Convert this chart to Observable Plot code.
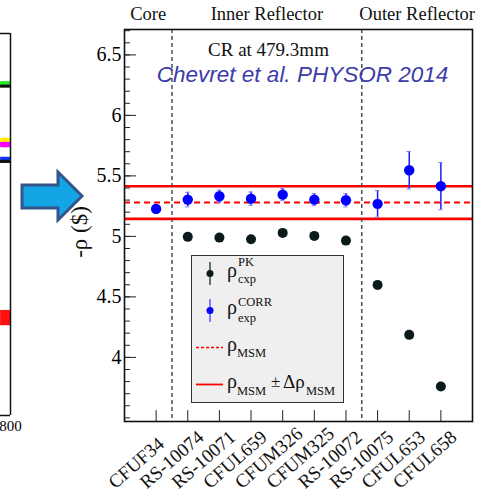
<!DOCTYPE html>
<html><head><meta charset="utf-8">
<script src="https://cdn.jsdelivr.net/npm/d3@7"></script>
<script src="https://cdn.jsdelivr.net/npm/@observablehq/plot@0.6"></script>
<style>
body{margin:0;background:#fff;}
#wrap{position:relative;width:481px;height:494px;overflow:hidden;background:#fff;}
#wrap svg{position:absolute;left:0;top:0;}
</style></head><body><div id="wrap"></div>
<script>
// ---- data ----
const samples = ["CFUF34","RS-10074","RS-10071","CFUL659","CFUM326","CFUM325","RS-10072","RS-10075","CFUL653","CFUL658"];
const rhoCorr    = [5.227,5.304,5.332,5.312,5.345,5.304,5.299,5.269,5.547,5.415];
const rhoCorrErr = [0.035,0.06,0.05,0.055,0.05,0.05,0.055,0.11,0.155,0.195];
const rhoPK      = [null,4.996,4.99,4.977,5.029,5.004,4.965,4.599,4.186,3.76];
const rhoMSM = 5.28;
const rhoMSMErr = 0.135;
const regions = ["Core","Inner Reflector","Outer Reflector"];
const regionBounds = [0, 1.5, 7.5, 11];
const yMajorTicks = [4, 4.5, 5, 5.5, 6, 6.5];
const yDomain = [3.47, 6.71];
const yLabel = "-ρ ($)";
// left (cut-off) chart fragment: coloured traces near its right edge, relative level units
const leftTraceLevel = [0.866, 0.861, 0.717, 0.708, 0.668, 0.664, 0.255];
const leftTraceColor = ["#22ee22", "#111111", "#ffee00", "#ff00ff", "#1133ff", "#111111", "#ff1010"];
const leftTraceSpread = [0.008, 0.004, 0.009, 0.007, 0.008, 0.004, 0.02];

const serif = "'Liberation Serif', 'Times New Roman', serif";
const data = samples.map((s, i) => ({i: i + 1, s, corr: rhoCorr[i], err: rhoCorrErr[i], pk: rhoPK[i]}));
const minor = d3.range(35, 68).map(v => v / 10).filter(v => v >= yDomain[0] && v <= yDomain[1]);
const regionCenters = regions.map((r, k) => ({r, x: (regionBounds[k] + regionBounds[k + 1]) / 2}));

const main = Plot.plot({
  width: 481, height: 494,
  marginTop: 29, marginRight: 9, marginBottom: 73, marginLeft: 124,
  style: {fontFamily: serif, background: "transparent", overflow: "visible"},
  x: {domain: [0, 11], axis: null},
  y: {domain: yDomain},
  marks: [
    Plot.ruleY([rhoMSM - rhoMSMErr, rhoMSM + rhoMSMErr], {stroke: "#ff0000", strokeWidth: 2.6}),
    Plot.ruleY([rhoMSM], {stroke: "#ff0000", strokeWidth: 2.2, strokeDasharray: "6,4"}),
    Plot.ruleX(regionBounds.slice(1, -1), {stroke: "#444", strokeWidth: 1.4, strokeDasharray: "4,3"}),
    Plot.ruleY(minor, {x1: 0, x2: 0.19, stroke: "#222", strokeWidth: 1}),
    Plot.ruleY(yMajorTicks, {x1: 0, x2: 0.38, stroke: "#222", strokeWidth: 1}),
    Plot.ruleX(d3.range(1, 11), {y1: yDomain[0], y2: yDomain[0] + 0.09, stroke: "#222", strokeWidth: 1}),
    Plot.dot(data.filter(d => d.pk != null), {x: "i", y: "pk", r: 5, fill: "#0a1a1a", stroke: "none"}),
    Plot.ruleX(data, {x: "i", y1: d => d.corr - d.err, y2: d => d.corr + d.err, stroke: "#1a1aff", strokeWidth: 1.5}),
    Plot.ruleY(data, {y: d => d.corr + d.err, x1: d => d.i - 0.07, x2: d => d.i + 0.07, stroke: "#8080ff", strokeWidth: 1}),
    Plot.ruleY(data, {y: d => d.corr - d.err, x1: d => d.i - 0.07, x2: d => d.i + 0.07, stroke: "#8080ff", strokeWidth: 1}),
    Plot.dot(data, {x: "i", y: "corr", r: 5.2, fill: "#0000ff", stroke: "none"}),
    Plot.frame({stroke: "#111", strokeWidth: 1.6}),
    Plot.axisY({ticks: yMajorTicks, tickSize: 0, tickPadding: 3, fontSize: 20, fontFamily: serif, label: null, tickFormat: d => String(d)}),
    // sample names, rotated, starting below-left of each tick (ROOT style)
    Plot.text(data, {x: "i", text: "s", frameAnchor: "bottom", textAnchor: "start", lineAnchor: "bottom", rotate: -41, dx: -41, dy: 68, fontSize: 19, fontFamily: serif, fill: "#111"}),
    Plot.text(regionCenters, {x: "x", text: "r", frameAnchor: "top", dy: -10, lineAnchor: "bottom", fontSize: 18.5, fontFamily: serif, fill: "#111"}),
    Plot.text(["CR at 479.3mm"], {frameAnchor: "top", dx: -30, dy: 26, lineAnchor: "bottom", fontSize: 19, fontFamily: serif, fill: "#111"}),
    Plot.text(["Chevret et al. PHYSOR 2014"], {frameAnchor: "top", dx: 4, dy: 52, lineAnchor: "bottom", fontSize: 22.5, fontStyle: "italic", fontFamily: "'Liberation Sans', Arial, sans-serif", fill: "#3c3ca8"})
  ]
});

// y-axis title and legend drawn on top of the main chart
const svg = d3.select(main);
svg.append("text").attr("transform", "translate(79,232) rotate(-90)")
  .attr("text-anchor", "middle").attr("dy", "0.35em").attr("font-family", serif)
  .attr("font-size", 23).attr("fill", "#111").text(yLabel);

const lg = svg.append("g").attr("font-family", serif).attr("fill", "#111").attr("text-anchor", "start");
lg.append("rect").attr("x", 191.5).attr("y", 255.5).attr("width", 152).attr("height", 147)
  .attr("fill", "#efefef").attr("stroke", "#333").attr("stroke-width", 1);
function txt(x, y, size, s) {
  return lg.append("text").attr("x", x).attr("y", y).attr("font-size", size).text(s);
}
// entry 1: PK
lg.append("line").attr("x1", 210).attr("x2", 210).attr("y1", 262).attr("y2", 285).attr("stroke", "#0a1a1a").attr("stroke-width", 1.2);
lg.append("circle").attr("cx", 210).attr("cy", 273.5).attr("r", 3.5).attr("fill", "#0a1a1a");
txt(227, 277, 20, "ρ"); txt(238, 266, 12.5, "PK"); txt(238, 283, 12.5, "cxp");
// entry 2: CORR
lg.append("line").attr("x1", 210).attr("x2", 210).attr("y1", 299).attr("y2", 322).attr("stroke", "#3030ff").attr("stroke-width", 1.2);
lg.append("circle").attr("cx", 210).attr("cy", 310.5).attr("r", 3.5).attr("fill", "#0000ff");
txt(227, 314, 20, "ρ"); txt(238, 306, 12.5, "CORR"); txt(238, 322, 12.5, "exp");
// entry 3: MSM dashed
lg.append("line").attr("x1", 196).attr("x2", 223).attr("y1", 347.5).attr("y2", 347.5).attr("stroke", "#ff0000").attr("stroke-width", 1.5).attr("stroke-dasharray", "3,2");
txt(227, 351, 20, "ρ"); txt(237, 357, 12.5, "MSM");
// entry 4: MSM +- delta
lg.append("line").attr("x1", 196).attr("x2", 223).attr("y1", 384.5).attr("y2", 384.5).attr("stroke", "#ff0000").attr("stroke-width", 1.8);
txt(227, 388, 20, "ρ"); txt(237, 395, 12.5, "MSM");
txt(271, 387, 17, "±"); txt(283, 388, 19, "Δρ"); txt(306, 395, 12.5, "MSM");

// left cut-off chart fragment
const left = Plot.plot({
  width: 40, height: 494,
  marginTop: 33, marginBottom: 79, marginLeft: 0, marginRight: 30,
  style: {fontFamily: serif, background: "transparent", overflow: "visible"},
  x: {domain: [700, 800]},
  y: {domain: [0, 1], axis: null},
  marks: [
    Plot.rect(leftTraceLevel.map((v, k) => ({v, k})), {x1: 701, x2: 800, y1: d => d.v - leftTraceSpread[d.k], y2: d => d.v + leftTraceSpread[d.k], fill: d => leftTraceColor[d.k]}),
    Plot.ruleX([800], {stroke: "#111", strokeWidth: 1.5}),
    Plot.ruleY([0, 1], {stroke: "#111", strokeWidth: 1.5}),
    Plot.axisX({ticks: [800], tickSize: 0, tickPadding: 5, fontSize: 15, fontFamily: serif, label: null})
  ]
});

// arrow between the two panels
const arrow = d3.create("svg").attr("width", 481).attr("height", 494);
arrow.append("polygon").attr("points", "22,185 58,185 58,172 82,196 58,220 58,208 22,208")
  .attr("fill", "#14a5e6").attr("stroke", "#33548a").attr("stroke-width", 3).attr("stroke-linejoin", "miter");

const wrap = document.getElementById("wrap");
wrap.appendChild(left);
wrap.appendChild(arrow.node());
wrap.appendChild(main);
</script></body></html>
